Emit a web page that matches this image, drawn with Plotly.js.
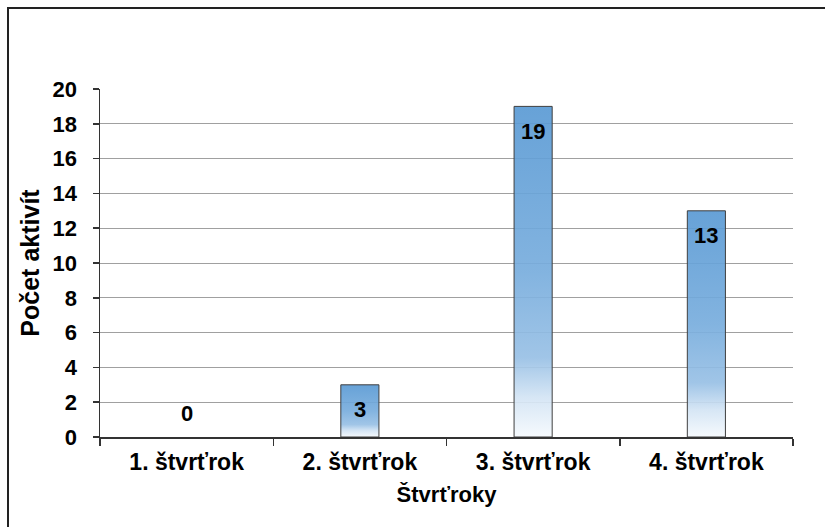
<!DOCTYPE html>
<html>
<head>
<meta charset="utf-8">
<script src="https://cdn.plot.ly/plotly-3.0.1.min.js"></script>
<style>
  html, body { margin: 0; padding: 0; background: #fff; overflow: hidden; }
  #frame { position: absolute; left: 7px; top: 7px; width: 900px; height: 600px;
           border-top: 2px solid #222; border-left: 2px solid #222; }
  #chart { position: absolute; left: 0; top: 0; width: 825px; height: 527px; }
</style>
</head>
<body>
<div id="frame"></div>
<svg width="0" height="0" style="position:absolute">
  <defs>
    <linearGradient id="barGrad" x1="0" y1="0" x2="0" y2="1">
      <stop offset="0" stop-color="#5A9AD4"/>
      <stop offset="0.5" stop-color="#78ADDD"/>
      <stop offset="0.76" stop-color="#98C0E5"/>
      <stop offset="0.88" stop-color="#D3E4F4"/>
      <stop offset="1" stop-color="#F5F9FD"/>
    </linearGradient>
  </defs>
</svg>
<div id="chart"></div>
<script>
const categories = ["1. štvrťrok", "2. štvrťrok", "3. štvrťrok", "4. štvrťrok"];
const values = [0, 3, 19, 13];
const yTicks = [0, 2, 4, 6, 8, 10, 12, 14, 16, 18, 20];
const xTitle = "Štvrťroky";
const yTitle = "Počet aktivít";

const FONT = "Liberation Sans, Arial, sans-serif";

const trace = {
  type: "bar",
  x: categories,
  y: values,
  marker: { color: "#7EB1DE", line: { color: "#3F3F3F", width: values.map(v => v === 0 ? 0 : 1) } },
  hoverinfo: "none"
};

const annotations = categories.map((c, i) => ({
  x: c, y: values[i], xref: "x", yref: "y",
  text: "<b>" + values[i] + "</b>",
  showarrow: false, yanchor: "middle",
  yshift: values[i] === 0 ? 24 : -25,
  font: { family: FONT, size: 22, color: "#000" }
}));

const layout = {
  width: 825, height: 527,
  paper_bgcolor: "rgba(0,0,0,0)", plot_bgcolor: "rgba(0,0,0,0)",
  margin: { l: 100, r: 32, t: 89, b: 90 },
  showlegend: false,
  bargap: 0.78,
  font: { family: FONT, color: "#000" },
  xaxis: {
    type: "category",
    showgrid: false,
    showline: true, linecolor: "#333", linewidth: 1.5,
    ticks: "outside", tickson: "boundaries", ticklen: 7, tickcolor: "#333", tickwidth: 1.5,
    tickfont: { family: FONT, size: 23, color: "#000", weight: "bold" },
    ticklabelstandoff: 4,
    title: { text: "<b>" + xTitle + "</b>", font: { family: FONT, size: 22, color: "#000" }, standoff: 12 }
  },
  yaxis: {
    range: [0, 20],
    tickvals: yTicks,
    showgrid: true, gridcolor: "#A0A0A0", gridwidth: 1,
    zeroline: false,
    showline: true, linecolor: "#333", linewidth: 1.5,
    ticks: "outside", ticklen: 6, tickcolor: "#333", tickwidth: 1.5,
    tickfont: { family: FONT, size: 22, color: "#000", weight: "bold" },
    ticklabelstandoff: 11,
    title: { text: "<b>" + yTitle + "</b>", font: { family: FONT, size: 25, color: "#000" }, standoff: 6 }
  },
  annotations: annotations
};

Plotly.newPlot("chart", [trace], layout, { displayModeBar: false, staticPlot: true }).then(() => {
  document.querySelectorAll("#chart .barlayer .point path").forEach(p => {
    p.style.fill = "url(#barGrad)";
    p.style.fillOpacity = "0.92";
  });
});
</script>
</body>
</html>
